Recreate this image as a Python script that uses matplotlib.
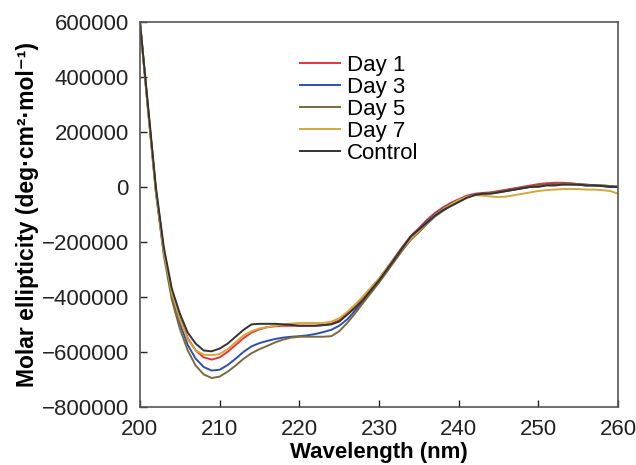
import numpy as np
import matplotlib
matplotlib.use("Agg")
import matplotlib.pyplot as plt

plt.rcParams['font.family'] = ['Liberation Sans', 'DejaVu Sans']

# wavelength, 1 nm steps
wavelength = np.arange(200, 261)

control = [600000, 300000, 0, -220000, -370000, -460000, -530000, -570000, -595000, -598000,
           -588000, -570000, -545000, -520000, -500000, -498000, -498000, -498000, -500000, -502000,
           -505000, -505000, -505000, -503000, -500000, -490000, -465000, -440000, -410000, -375000,
           -340000, -300000, -260000, -220000, -180000, -155000, -130000, -105000, -85000, -70000,
           -55000, -40000, -30000, -25000, -25000, -20000, -15000, -10000, -5000, 0,
           0, 5000, 5000, 8000, 8000, 8000, 5000, 5000, 3000, 0, 0]

day1 = [600000, 290000, -10000, -230000, -380000, -475000, -550000, -595000, -620000, -628000,
        -620000, -600000, -575000, -550000, -530000, -518000, -510000, -507000, -505000, -505000,
        -505000, -505000, -505000, -502000, -498000, -485000, -460000, -432000, -400000, -368000,
        -335000, -295000, -255000, -215000, -178000, -150000, -120000, -95000, -75000, -58000,
        -45000, -32000, -25000, -22000, -20000, -15000, -10000, -5000, 0, 5000,
        10000, 13000, 15000, 15000, 13000, 10000, 8000, 6000, 5000, 3000, 0]

day3 = [600000, 290000, -15000, -240000, -395000, -495000, -575000, -625000, -655000, -668000,
        -665000, -648000, -625000, -600000, -580000, -568000, -560000, -553000, -548000, -545000,
        -543000, -540000, -535000, -528000, -520000, -505000, -482000, -450000, -415000, -378000,
        -340000, -298000, -258000, -218000, -182000, -155000, -125000, -100000, -80000, -62000,
        -48000, -35000, -28000, -25000, -22000, -20000, -15000, -10000, -5000, 0,
        5000, 8000, 10000, 10000, 10000, 8000, 5000, 5000, 3000, 0, 0]

day5 = [600000, 285000, -20000, -250000, -410000, -515000, -595000, -650000, -682000, -695000,
        -690000, -672000, -650000, -625000, -605000, -590000, -578000, -565000, -555000, -548000,
        -545000, -545000, -545000, -545000, -543000, -525000, -495000, -460000, -422000, -385000,
        -348000, -308000, -268000, -228000, -192000, -165000, -135000, -108000, -88000, -68000,
        -52000, -38000, -30000, -25000, -22000, -18000, -12000, -8000, -3000, 0,
        5000, 8000, 10000, 12000, 12000, 10000, 8000, 6000, 5000, 3000, 0]

day7 = [600000, 285000, -15000, -235000, -385000, -480000, -555000, -595000, -610000, -612000,
        -608000, -590000, -565000, -540000, -525000, -515000, -510000, -505000, -500000, -497000,
        -495000, -495000, -495000, -495000, -490000, -478000, -455000, -428000, -398000, -365000,
        -332000, -295000, -258000, -222000, -188000, -160000, -130000, -103000, -82000, -64000,
        -48000, -36000, -30000, -32000, -35000, -37000, -35000, -30000, -25000, -20000,
        -15000, -12000, -10000, -8000, -8000, -8000, -10000, -10000, -12000, -15000, -25000]

series = [("Day 1", day1, "#e8333a"),
          ("Day 3", day3, "#2f4fae"),
          ("Day 5", day5, "#7a6a3e"),
          ("Day 7", day7, "#d4a83a"),
          ("Control", control, "#333333")]

fig = plt.figure(figsize=(6.36, 4.65), dpi=100)
ax = fig.add_axes([0.220, 0.125, 0.752, 0.828])

# control drawn last so it sits on top like the original
for name, vals, col in series:
    ax.plot(wavelength, vals, color=col, lw=1.4, label=name)

ax.set_xlim(200, 260)
ax.set_ylim(-800000, 600000)
ax.set_xticks(range(200, 261, 10))
ax.set_yticks(range(-800000, 600001, 200000))
ax.tick_params(direction='in', length=5, width=1, labelsize=16, colors='#222222')
ax.tick_params(axis='y', pad=8)
ax.tick_params(axis='x', pad=9)
for s in ax.spines.values():
    s.set_color('#555555')
    s.set_linewidth(1.2)

ax.set_xlabel("Wavelength (nm)", fontsize=16, fontweight='bold', labelpad=1)
ax.set_ylabel("Molar ellipticity (deg·cm²·mol⁻¹)", fontsize=16.5, fontweight='bold', labelpad=2)

ax.legend(loc='upper left', bbox_to_anchor=(0.335, 0.915), frameon=False, fontsize=16,
          handlelength=1.8, handletextpad=0.3, labelspacing=0.05, borderpad=0, borderaxespad=0)

fig.savefig("out.png", dpi=100)
